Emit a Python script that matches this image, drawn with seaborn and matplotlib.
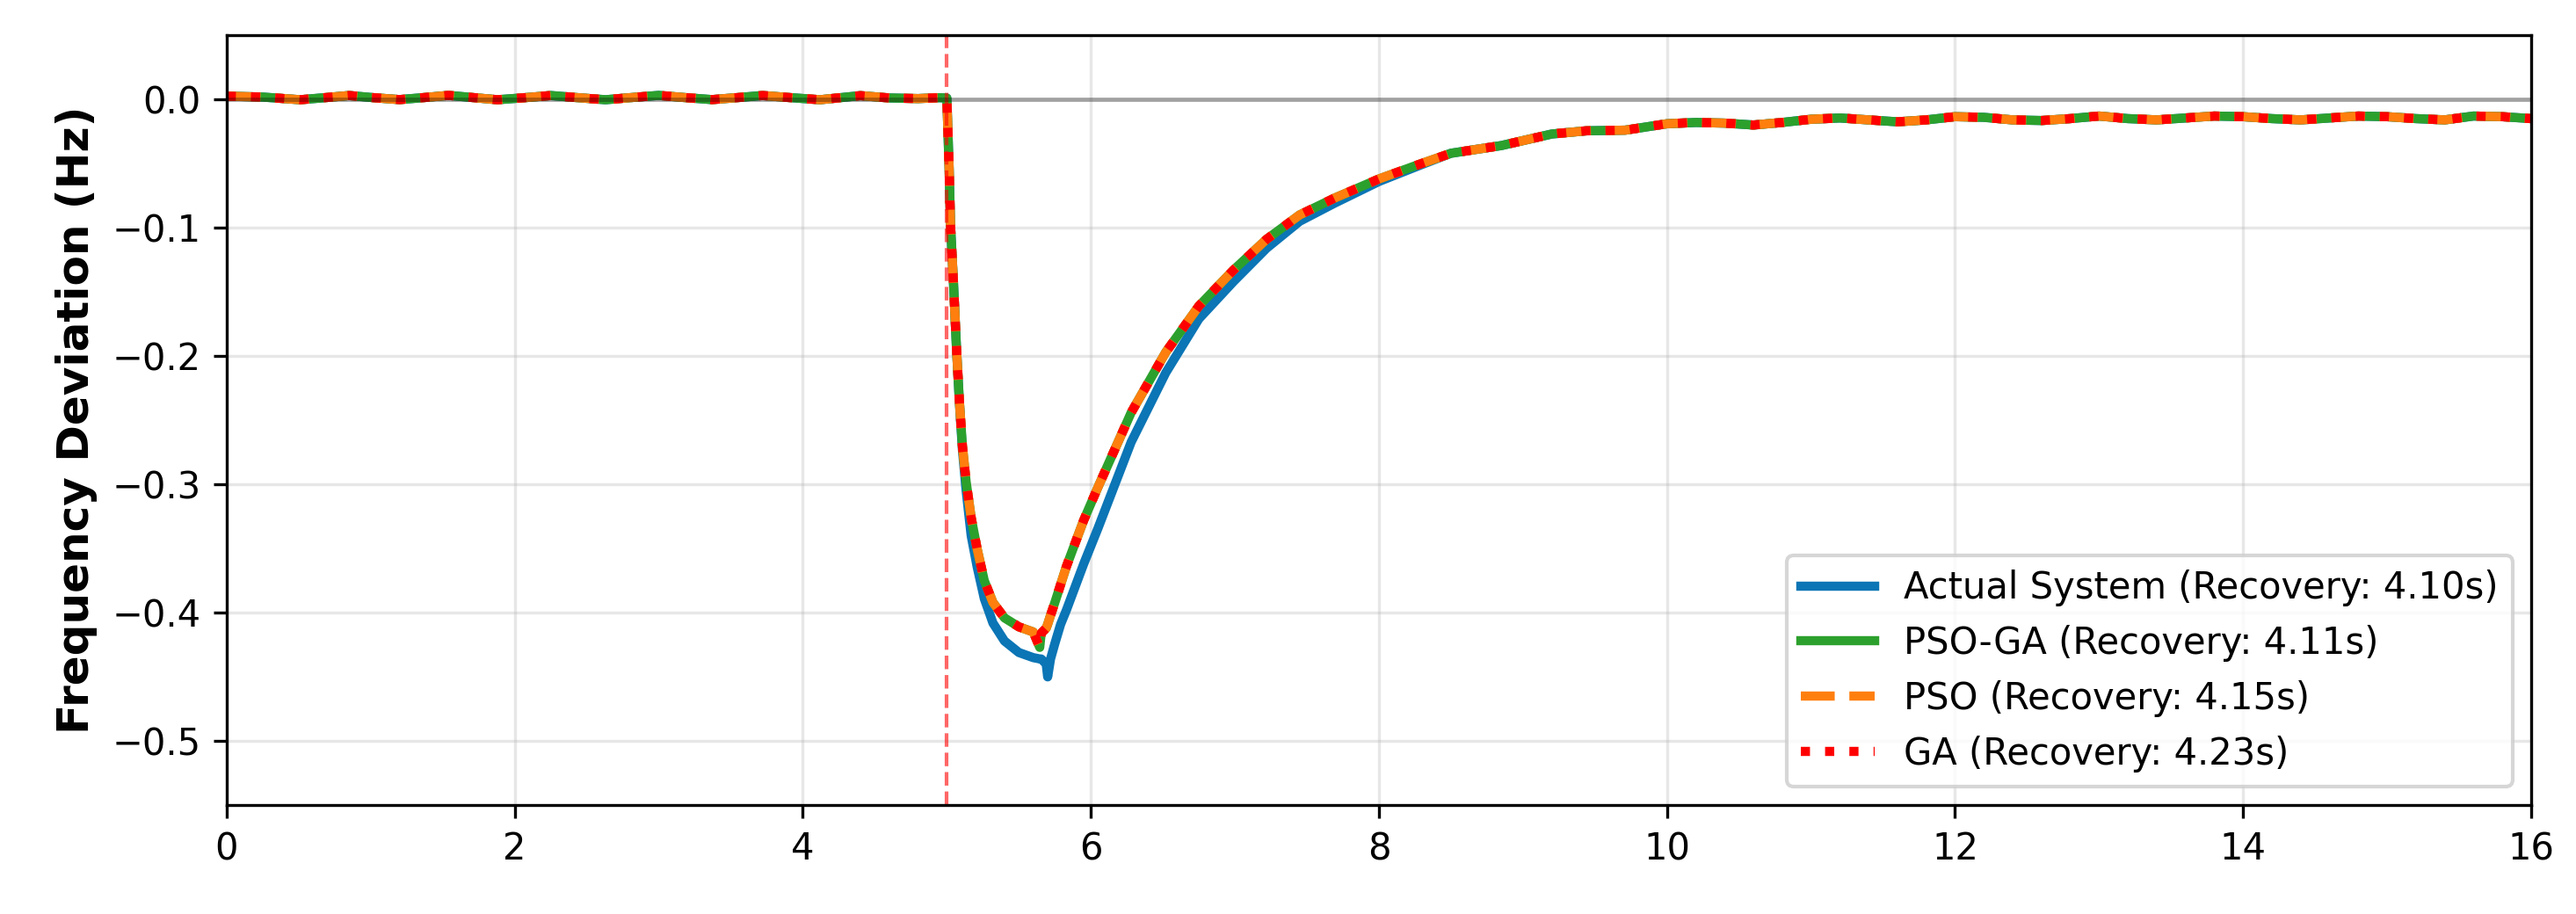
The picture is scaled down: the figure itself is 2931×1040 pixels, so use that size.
import numpy as np
import seaborn as sns
import matplotlib.pyplot as plt

# time axis (s): pre-fault wiggle, fault at 5 s, recovery tail
time_s = [0.0, 0.25, 0.51, 0.68, 0.85, 1.02, 1.20, 1.37, 1.54, 1.71, 1.88, 2.07,
          2.25, 2.44, 2.63, 2.81, 3.00, 3.18, 3.37, 3.55, 3.72, 3.92, 4.12, 4.26,
          4.40, 4.60, 4.80, 4.95, 5.00,
          5.016, 5.026, 5.047, 5.067, 5.087, 5.108, 5.134, 5.169, 5.21, 5.26,
          5.32, 5.40, 5.50, 5.60, 5.645, 5.655, 5.69, 5.70, 5.72, 5.75, 5.79,
          5.83, 5.89, 5.95, 6.05, 6.28, 6.52, 6.75, 6.99, 7.22, 7.45, 7.69,
          8.0, 8.27, 8.5, 8.85, 9.2, 9.44, 9.71,
          10.0, 10.2, 10.4, 10.6, 10.8, 11.0, 11.2, 11.4, 11.6, 11.8, 12.0,
          12.2, 12.4, 12.6, 12.8, 13.0, 13.2, 13.4, 13.6, 13.8, 14.0, 14.2,
          14.4, 14.6, 14.8, 15.0, 15.2, 15.4, 15.6, 15.8, 16.0]

pre_fault = [0.0025, 0.0018, -0.0003, 0.0013, 0.0030, 0.0013, -0.0002, 0.0014,
             0.0031, 0.0014, -0.0003, 0.0013, 0.0030, 0.0013, -0.0003, 0.0014,
             0.0031, 0.0014, -0.0002, 0.0014, 0.0030, 0.0013, -0.0003, 0.0013,
             0.0029, 0.0011, 0.0006, 0.0013, 0.0010]

tail = [-0.042, -0.036, -0.027, -0.0245, -0.024,
        -0.019, -0.018, -0.0185, -0.020, -0.018, -0.0155, -0.0145, -0.016,
        -0.0175, -0.016, -0.0135, -0.014, -0.016, -0.0165, -0.015, -0.013,
        -0.015, -0.016, -0.0145, -0.013, -0.0135, -0.015, -0.016, -0.0145,
        -0.013, -0.0135, -0.015, -0.016, -0.013, -0.0135, -0.015]

actual_dip = [-0.054, -0.099, -0.145, -0.194, -0.236, -0.273, -0.305, -0.340,
              -0.364, -0.389, -0.408, -0.422, -0.431, -0.435, -0.436, -0.436,
              -0.440, -0.450, -0.436, -0.424, -0.409, -0.398, -0.380, -0.362,
              -0.334, -0.267, -0.213, -0.171, -0.142, -0.116, -0.095, -0.081,
              -0.064, -0.052]

tuned_dip = [-0.054, -0.099, -0.145, -0.194, -0.235, -0.270, -0.298, -0.326,
             -0.350, -0.375, -0.392, -0.404, -0.411, -0.415, -0.427, -0.416,
             -0.412, -0.409, -0.402, -0.392, -0.378, -0.364, -0.346, -0.328,
             -0.302, -0.244, -0.197, -0.161, -0.133, -0.109, -0.090, -0.077,
             -0.062, -0.051]

actual_system = pre_fault + actual_dip + tail
pso_ga = pre_fault + tuned_dip + tail
pso = pre_fault + tuned_dip + tail
ga = pre_fault + tuned_dip + tail

labels = ['Actual System (Recovery: 4.10s)', 'PSO-GA (Recovery: 4.11s)',
          'PSO (Recovery: 4.15s)', 'GA (Recovery: 4.23s)']

fig, ax = plt.subplots(figsize=(2931 / 300, 1040 / 300), dpi=300)
fig.subplots_adjust(left=0.088, right=0.9826, top=0.9615, bottom=0.119)

sns.lineplot(x=time_s, y=actual_system, ax=ax, color='#0b75b5', lw=2.5, label=labels[0])
sns.lineplot(x=time_s, y=pso_ga, ax=ax, color='#2ca02c', lw=2.5, label=labels[1])
sns.lineplot(x=time_s, y=pso, ax=ax, color='#ff7f0e', lw=2.5, linestyle='--', label=labels[2])
sns.lineplot(x=time_s, y=ga, ax=ax, color='red', lw=2.5, linestyle=':', label=labels[3])

ax.axvline(5, color='red', linestyle='--', lw=1.0, alpha=0.6)
ax.axhline(0, color='k', lw=1.2, alpha=0.3)

ax.set_xlim(0, 16)
ax.set_ylim(-0.55, 0.05)
ax.set_ylabel('Frequency Deviation (Hz)', fontsize=12, fontweight='bold')
ax.grid(True, alpha=0.3)
ax.legend(loc='lower right', fontsize=10)

plt.savefig('out.png', dpi=300)
